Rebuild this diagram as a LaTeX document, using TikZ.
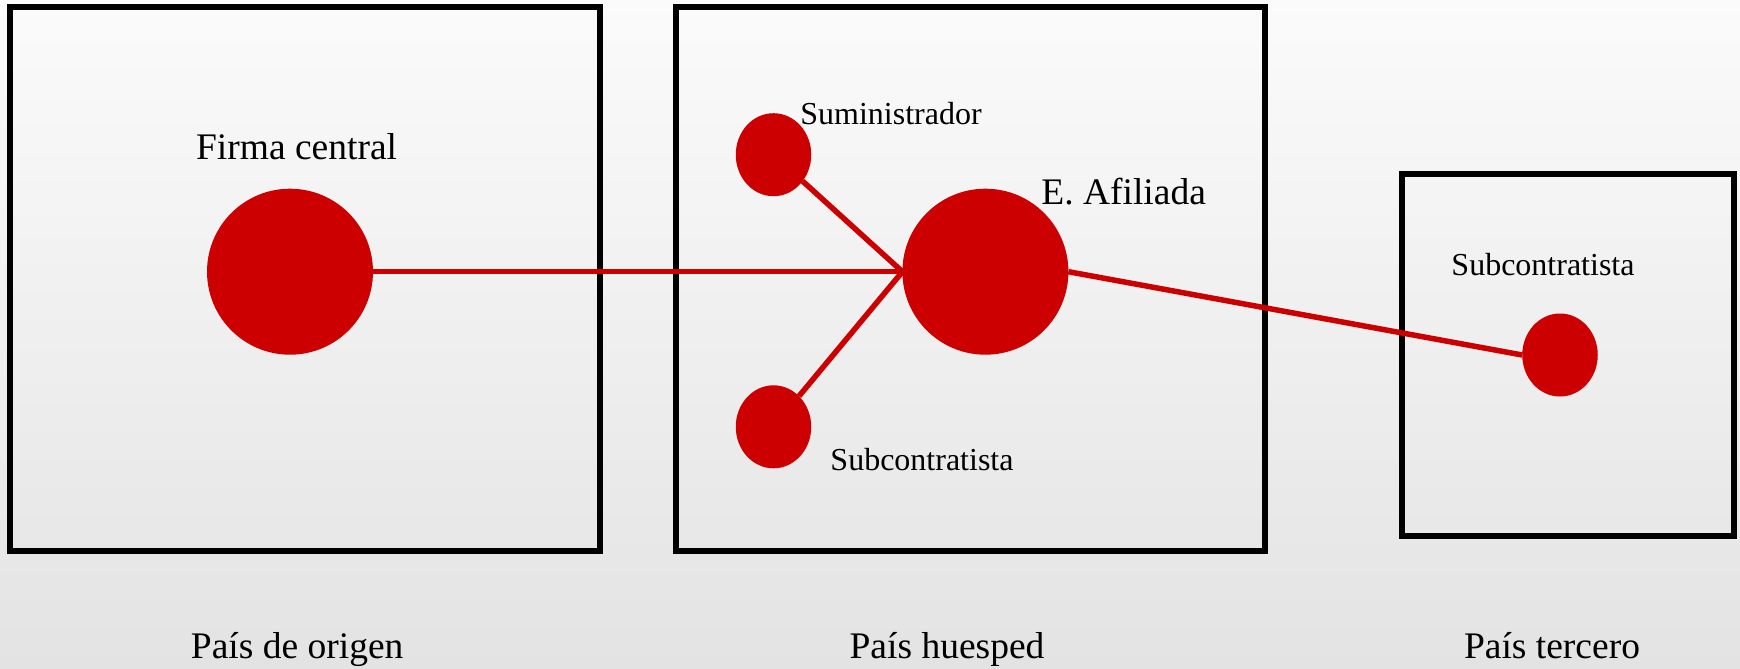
\documentclass[tikz,border=0pt]{standalone}
\usepackage{fontspec}
\setmainfont{Liberation Serif}
\usepackage{xcolor}
\usepackage{tikz}
\usetikzlibrary{shapes.geometric,positioning}
\definecolor{rojo}{HTML}{CC0000}
\definecolor{fondoalto}{HTML}{FBFBFB}
\definecolor{fondobajo}{HTML}{E3E3E3}

\begin{document}
\begin{tikzpicture}[x=1pt, y=-1pt, every node/.style={inner sep=0pt, outer sep=0pt}, pais/.style={rectangle, draw=black, line width=6pt}, grande/.style={circle, fill=rojo, minimum size=166pt}, socio/.style={ellipse, fill=rojo, minimum width=75.5pt, minimum height=83pt}, enlace/.style={draw=rojo, line width=5.5pt}, etq/.style={anchor=base, font=\fontsize{37.5}{45}\selectfont}, etqp/.style={anchor=base, font=\fontsize{32}{38}\selectfont}]
\useasboundingbox (0pt,0pt) rectangle (1740pt,-669pt);
\shade[top color=fondoalto, bottom color=fondobajo] (0pt,0pt) rectangle (1740pt,-669pt);
% paises
\node[pais, minimum width=590pt, minimum height=543.7pt] (origen) at (305,279.2) {};
\node[pais, minimum width=589pt, minimum height=543.7pt] (huesped) at (970.5,279.2) {};
\node[pais, minimum width=331.7pt, minimum height=362pt] (tercero) at (1567.9,355) {};
% empresas
\node[grande] (firma) at (290,271.7) {};
\node[grande] (afil) at (985.4,271.7) {};
\node[socio] (sumin) at (773.5,154.7) {};
\node[socio] (subh) at (773.5,426.8) {};
\node[socio] (subt) at (1560,355) {};
\draw[enlace] (firma) -- (afil.west); \draw[enlace] (sumin) -- (afil.west); \draw[enlace] (subh) -- (afil.west); \draw[enlace] (afil.east) -- (subt.west);
% etiquetas
\node[etq] (lfirma) at (296.6,159.3) {Firma central};
\node[etq] (lafil) at (1123.6,204.4) {E. Afiliada};
\node[etqp] (lsumin) at (891,124.4) {Suministrador};
\node[etqp] (lsubh) at (922,470.9) {Subcontratista};
\node[etqp] (lsubt) at (1543,275) {Subcontratista};
\node[etq] (lorigen) at (297.2,658.3) {País de origen};
\node[etq] (lhuesped) at (947,658.3) {País huesped};
\node[etq] (ltercero) at (1552,658.3) {País tercero};
\end{tikzpicture}
\end{document}
